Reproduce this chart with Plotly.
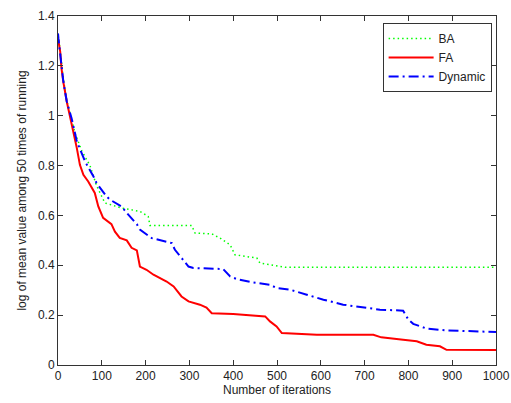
import plotly.graph_objects as go

ba_x = [0, 3, 12, 20, 39, 54, 73, 88, 107, 145, 187, 206, 210, 305, 313, 351, 370, 393, 404, 454, 461, 499, 520, 1000]
ba_y = [1.32, 1.29, 1.15, 1.06, 0.93, 0.86, 0.80, 0.72, 0.65, 0.63, 0.616, 0.596, 0.56, 0.56, 0.529, 0.526, 0.509, 0.482, 0.442, 0.429, 0.409, 0.398, 0.392, 0.392]

fa_x = [0, 5, 8, 12, 20, 27, 35, 43, 50, 58, 69, 84, 92, 103, 122, 130, 141, 157, 168, 180, 187, 202, 218, 233, 248, 264, 282, 298, 324, 339, 351, 400, 431, 461, 473, 484, 499, 511, 553, 591, 720, 738, 788, 819, 841, 872, 887, 1000]
fa_y = [1.31, 1.257, 1.19, 1.137, 1.057, 1.004, 0.937, 0.87, 0.803, 0.763, 0.736, 0.69, 0.636, 0.59, 0.565, 0.535, 0.51, 0.50, 0.47, 0.46, 0.395, 0.382, 0.362, 0.35, 0.335, 0.315, 0.275, 0.255, 0.242, 0.23, 0.208, 0.205, 0.20, 0.197, 0.195, 0.175, 0.155, 0.128, 0.124, 0.121, 0.121, 0.111, 0.101, 0.095, 0.081, 0.075, 0.061, 0.06]

dyn_x = [0, 1, 12, 20, 31, 43, 54, 62, 81, 88, 111, 119, 145, 157, 180, 187, 214, 233, 260, 267, 286, 298, 309, 377, 393, 408, 446, 484, 499, 530, 568, 606, 651, 689, 735, 788, 800, 811, 842, 887, 963, 1000]
dyn_y = [1.33, 1.31, 1.14, 1.057, 0.99, 0.897, 0.85, 0.816, 0.756, 0.73, 0.676, 0.663, 0.636, 0.61, 0.565, 0.543, 0.509, 0.50, 0.489, 0.462, 0.422, 0.395, 0.389, 0.385, 0.355, 0.345, 0.331, 0.322, 0.309, 0.302, 0.282, 0.262, 0.242, 0.232, 0.222, 0.218, 0.182, 0.165, 0.146, 0.139, 0.135, 0.132]

x_ticks = [0, 100, 200, 300, 400, 500, 600, 700, 800, 900, 1000]
y_ticks = [0, 0.2, 0.4, 0.6, 0.8, 1.0, 1.2, 1.4]
y_tick_labels = ["0", "0.2", "0.4", "0.6", "0.8", "1", "1.2", "1.4"]

FONT = "Liberation Sans, Arial"

fig = go.Figure()
fig.add_trace(go.Scatter(x=ba_x, y=ba_y, mode="lines", name="BA",
                         line=dict(color="#00ff00", width=1.5, dash="1.5px,3px")))
fig.add_trace(go.Scatter(x=fa_x, y=fa_y, mode="lines", name="FA",
                         line=dict(color="#ff0000", width=2)))
fig.add_trace(go.Scatter(x=dyn_x, y=dyn_y, mode="lines", name="Dynamic",
                         line=dict(color="#0000ff", width=2, dash="10px,4px,2px,4px")))

axis_common = dict(showline=True, linecolor="#333333", linewidth=1, mirror="ticks",
                   ticks="inside", ticklen=5, tickcolor="#333333", showgrid=False,
                   zeroline=False, automargin=False, ticklabeloverflow="allow",
                   tickfont=dict(family=FONT, size=12, color="#222222"))

fig.update_xaxes(range=[0, 1000], tickvals=x_ticks, ticktext=[str(v) for v in x_ticks],
                 title=dict(text="Number of iterations", standoff=2,
                            font=dict(family=FONT, size=12, color="#222222")),
                 **axis_common)
fig.update_yaxes(range=[0, 1.4], tickvals=y_ticks, ticktext=y_tick_labels,
                 title=dict(text="log of mean value among 50 times of running", standoff=8,
                            font=dict(family=FONT, size=12, color="#222222")),
                 **axis_common)

fig.update_layout(
    width=511, height=403,
    margin=dict(l=58, r=15, t=16, b=38),
    paper_bgcolor="white", plot_bgcolor="white",
    showlegend=True,
    legend=dict(x=0.99, y=0.98, xanchor="right", yanchor="top",
                bgcolor="white", bordercolor="#333333", borderwidth=1,
                font=dict(family=FONT, size=12, color="#222222"),
                tracegroupgap=0, itemwidth=45),
)

fig.write_html("out.html", config={"displayModeBar": False},
               post_script="document.body.style.margin='0';document.body.style.overflow='hidden';")
